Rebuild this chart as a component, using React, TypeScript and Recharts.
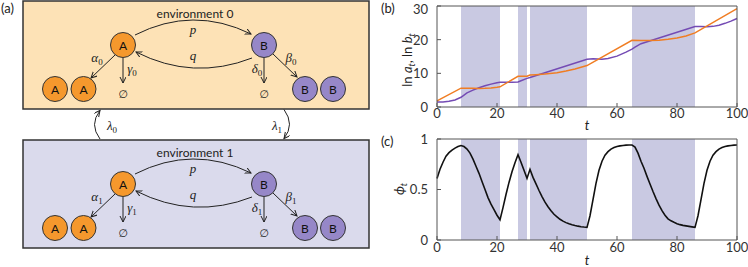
import React from 'react';
import { ComposedChart, Line, XAxis, YAxis, ReferenceArea, Surface } from 'recharts';

// ---- data ----
const envStart = [8, 27, 31, 65];
const envEnd = [21, 30, 50, 86];

const tA = [0, 8, 10, 12, 14, 16, 18, 20, 21, 27, 28, 30, 31, 33, 36, 40, 43, 46, 48, 50, 65, 68, 71, 74, 77, 80, 83, 86, 100];
const lnA = [1.8, 5.6, 5.6, 5.55, 5.5, 5.55, 5.65, 5.85, 6.0, 9.1, 9.1, 9.15, 9.5, 9.6, 9.8, 10.2, 10.7, 11.3, 11.8, 12.3, 19.8, 19.75, 19.75, 19.85, 20.1, 20.5, 21.1, 22.0, 29.2];

const tB = [0, 2, 4, 6, 8, 10, 12, 14, 16, 18, 20, 21, 25, 27, 28, 30, 31, 50, 52, 55, 57, 60, 63, 65, 66, 67, 68, 86, 88, 90, 92, 94, 96, 98, 100];
const lnB = [1.5, 1.5, 1.7, 2.1, 2.9, 4.2, 5.0, 5.7, 6.3, 6.8, 7.2, 7.35, 7.35, 7.45, 7.8, 8.5, 8.75, 14.2, 14.3, 14.2, 14.4, 15.1, 16.3, 17.2, 17.8, 18.3, 18.8, 23.9, 23.9, 23.85, 23.95, 24.3, 24.85, 25.5, 26.3];

const phiT = Array.from({ length: 101 }, (_, i) => i);
const phi = [
  0.61, 0.70, 0.77, 0.83, 0.865, 0.89, 0.91, 0.925, 0.935,
  0.925, 0.90, 0.86, 0.80, 0.73, 0.66, 0.58, 0.50, 0.42, 0.355, 0.30, 0.245, 0.20,
  0.32, 0.45, 0.57, 0.675, 0.765, 0.845,
  0.77, 0.69, 0.61, 0.70,
  0.62, 0.555, 0.49, 0.43, 0.375, 0.33, 0.29, 0.255, 0.23, 0.205, 0.187, 0.172, 0.16, 0.15, 0.143, 0.137, 0.132, 0.128, 0.125,
  0.24, 0.40, 0.56, 0.69, 0.78, 0.84, 0.875, 0.90, 0.915, 0.925, 0.932, 0.936, 0.939, 0.94, 0.94,
  0.92, 0.86, 0.78, 0.71, 0.63, 0.555, 0.48, 0.41, 0.345, 0.29, 0.245, 0.21, 0.19, 0.175, 0.162, 0.152, 0.145, 0.14, 0.135, 0.13, 0.125,
  0.24, 0.40, 0.56, 0.69, 0.78, 0.84, 0.875, 0.90, 0.915, 0.925, 0.932, 0.936, 0.939, 0.94,
];

const xTicks = [0, 20, 40, 60, 80, 100];
const bTicks = [0, 10, 20, 30];
const cTicks = [0, 0.5, 1];

const envNames = ['environment 0', 'environment 1'];
const envIdx = ['0', '1'];

const dataA = tA.map((t, i) => ({ t, v: lnA[i] }));
const dataB = tB.map((t, i) => ({ t, v: lnB[i] }));
const dataPhi = phiT.map((t, i) => ({ t, v: phi[i] }));

// ---- styles ----
const ORANGE = '#F07D23';
const PURPLE = '#744BB4';
const SHADE = '#C9C9E2';
const AXIS = '#555';
const SANS = 'Lato, "Open Sans", sans-serif';
const SERIF = '"Liberation Serif", "DejaVu Serif", serif';
const tickStyle = { fill: '#333', fontSize: 13, fontFamily: SANS };

const boxFills = ['#FDE2B6', '#DADAEC'];
const nodeFill: Record<string, string> = { A: '#F5982D', B: '#9687C8' };
const nodes = [
  { id: 'A', x: 123, y: 45 },
  { id: 'B', x: 264, y: 45 },
  { id: 'A', x: 55, y: 89 },
  { id: 'A', x: 83.5, y: 89 },
  { id: 'B', x: 305, y: 89 },
  { id: 'B', x: 333, y: 89 },
];

const Sub = ({ x, y, main, sub, anchor = 'middle' }: any) => (
  <text x={x} y={y} textAnchor={anchor} fontFamily={SERIF} fontStyle="italic" fontSize={13} fill="#222">
    {main}
    <tspan dy={3} fontSize={9} fontStyle="normal">{sub}</tspan>
  </text>
);

const Env = ({ k }: { k: number }) => {
  const oy = k * 139;
  const s = envIdx[k];
  return (
    <g transform={`translate(0, ${oy})`}>
      <rect x={23} y={1} width={346} height={108} fill={boxFills[k]} stroke="#333" strokeWidth={1.5} />
      <text x={195} y={13} textAnchor="middle" dominantBaseline="central" fontFamily={SANS} fontSize={12} fill="#222">{envNames[k]}</text>
      <path d="M 135 35 Q 193 5.5 251 34" fill="none" stroke="#222" strokeWidth={1} markerEnd="url(#arr)" />
      <path d="M 252 58 Q 193 81 136 52" fill="none" stroke="#222" strokeWidth={1} markerEnd="url(#arr)" />
      <path d="M 115 55 L 91 78" fill="none" stroke="#222" strokeWidth={1} markerEnd="url(#arr)" />
      <path d="M 123 58 L 123 83" fill="none" stroke="#222" strokeWidth={1} markerEnd="url(#arr)" />
      <path d="M 264 58 L 264 83" fill="none" stroke="#222" strokeWidth={1} markerEnd="url(#arr)" />
      <path d="M 273 54 L 297 77" fill="none" stroke="#222" strokeWidth={1} markerEnd="url(#arr)" />
      <text x={193} y={34} textAnchor="middle" fontFamily={SERIF} fontStyle="italic" fontSize={13} fill="#222">p</text>
      <text x={193} y={60} textAnchor="middle" fontFamily={SERIF} fontStyle="italic" fontSize={13} fill="#222">q</text>
      <Sub x={97} y={62} main="α" sub={s} />
      <Sub x={132} y={73} main="γ" sub={s} />
      <Sub x={257} y={73} main="δ" sub={s} />
      <Sub x={291} y={62} main="β" sub={s} />
      {nodes.map((n, i) => (
        <g key={i}>
          <circle cx={n.x} cy={n.y} r={12.5} fill={nodeFill[n.id]} stroke="#333" strokeWidth={1} />
          <text x={n.x} y={n.y + 0.5} textAnchor="middle" dominantBaseline="central" fontFamily={SANS} fontSize={12} fill="#111">{n.id}</text>
        </g>
      ))}
      <text x={123} y={94} textAnchor="middle" dominantBaseline="central" fontFamily='"DejaVu Sans", sans-serif' fontSize={11} fill="#222">∅</text>
      <text x={264} y={94} textAnchor="middle" dominantBaseline="central" fontFamily='"DejaVu Sans", sans-serif' fontSize={11} fill="#222">∅</text>
    </g>
  );
};

const Diagram = () => (
  <Surface width={380} height={267}>
    <defs>
      <marker id="arr" markerWidth={8} markerHeight={8} refX={6} refY={3} orient="auto" markerUnits="userSpaceOnUse">
        <path d="M0,0 L6,3 L0,6" fill="none" stroke="#222" strokeWidth={1} />
      </marker>
    </defs>
    <Env k={0} />
    <Env k={1} />
    <path d="M 100 139 Q 89 124.5 100 110.5" fill="none" stroke="#222" strokeWidth={1} markerEnd="url(#arr)" />
    <path d="M 284 109.5 Q 295 124.5 284 138.5" fill="none" stroke="#222" strokeWidth={1} markerEnd="url(#arr)" />
    <Sub x={112} y={130} main="λ" sub="0" />
    <Sub x={277} y={130} main="λ" sub="1" />
  </Surface>
);

const axisCommon = {
  stroke: AXIS,
  axisLine: { stroke: AXIS },
  tickLine: { stroke: AXIS },
  tickSize: -4,
  tick: tickStyle,
  interval: 0 as const,
};

const YTickB = ({ x, y, payload }: any) => (
  <text x={x} y={Math.max(y, 8.5)} textAnchor="end" dominantBaseline="central" fontFamily={SANS} fontSize={13} fill="#333">
    {payload.value}
  </text>
);

const Frame = ({ yDomain, yTicks }: any) => [
  <XAxis key="xt" xAxisId="top" orientation="top" type="number" dataKey="t" domain={[0, 100]} ticks={xTicks} height={1} {...axisCommon} tickFormatter={() => ''} />,
  <YAxis key="yr" yAxisId="right" orientation="right" type="number" domain={yDomain} ticks={yTicks} width={1} {...axisCommon} tickFormatter={() => ''} />,
];

const shades = (fill: string) =>
  envStart.map((s, i) => (
    <ReferenceArea key={`s${i}`} x1={s} x2={envEnd[i]} fill={fill} fillOpacity={1} stroke="none" ifOverflow="visible" />
  ));

const ChartB = () => (
  <ComposedChart width={368} height={130} margin={{ top: 5, right: 10, bottom: 1, left: 27 }}>
    {shades(SHADE)}
    <XAxis type="number" dataKey="t" domain={[0, 100]} ticks={xTicks} height={22} tickMargin={6} allowDuplicatedCategory={false} {...axisCommon} />
    <YAxis type="number" domain={[0, 30]} ticks={bTicks} width={30} tickMargin={13} {...axisCommon} tick={<YTickB />} />
    {Frame({ yDomain: [0, 30], yTicks: bTicks })}
    <Line data={dataB} dataKey="v" type="linear" stroke={PURPLE} strokeWidth={1.5} dot={false} isAnimationActive={false} />
    <Line data={dataA} dataKey="v" type="linear" stroke={ORANGE} strokeWidth={1.5} dot={false} isAnimationActive={false} />
  </ComposedChart>
);

const ChartC = () => (
  <ComposedChart width={368} height={137} margin={{ top: 8, right: 10, bottom: 1, left: 27 }}>
    {shades(SHADE)}
    <XAxis type="number" dataKey="t" domain={[0, 100]} ticks={xTicks} height={26} tickMargin={7} allowDuplicatedCategory={false} {...axisCommon} />
    <YAxis type="number" domain={[0, 1]} ticks={cTicks} width={30} tickMargin={13} {...axisCommon} />
    {Frame({ yDomain: [0, 1], yTicks: cTicks })}
    <Line data={dataPhi} dataKey="v" type="linear" stroke="#111" strokeWidth={1.6} dot={false} isAnimationActive={false} />
  </ComposedChart>
);

const Overlay = () => (
  <svg width={748} height={267} style={{ position: 'absolute', left: 0, top: 0, pointerEvents: 'none' }}>
    <text x={1} y={13} fontFamily={SANS} fontSize={13} fill="#222">(a)</text>
    <text x={381} y={13} fontFamily={SANS} fontSize={13} fill="#222">(b)</text>
    <text x={381} y={146} fontFamily={SANS} fontSize={13} fill="#222">(c)</text>
    <text x={587} y={130} textAnchor="middle" fontFamily={SANS} fontStyle="italic" fontSize={13} fill="#222">t</text>
    <text x={587} y={264.5} textAnchor="middle" fontFamily={SANS} fontStyle="italic" fontSize={13} fill="#222">t</text>
    <text transform="rotate(-90 412 60)" x={412} y={60} textAnchor="middle" fontFamily={SANS} fontSize={13} fill="#222">
      ln <tspan fontStyle="italic">a</tspan><tspan dy={3} fontSize={9} fontStyle="italic">t</tspan><tspan dy={-3}>, ln </tspan><tspan fontStyle="italic">b</tspan><tspan dy={3} fontSize={9} fontStyle="italic">t</tspan>
    </text>
    <text transform="rotate(-90 404 189)" x={404} y={189} textAnchor="middle" fontFamily={SANS} fontSize={13} fill="#222">
      <tspan fontStyle="italic">ϕ</tspan><tspan dy={3} fontSize={9} fontStyle="italic">t</tspan>
    </text>
  </svg>
);

export default function App() {
  return (
    <div style={{ position: 'absolute', left: 0, top: 0, width: 748, height: 267, background: '#fff', overflow: 'hidden' }}>
      <div style={{ position: 'absolute', left: 0, top: 0 }}>
        <Diagram />
      </div>
      <div style={{ position: 'absolute', left: 380, top: 0 }}>
        <ChartB />
      </div>
      <div style={{ position: 'absolute', left: 380, top: 130 }}>
        <ChartC />
      </div>
      <Overlay />
    </div>
  );
}
